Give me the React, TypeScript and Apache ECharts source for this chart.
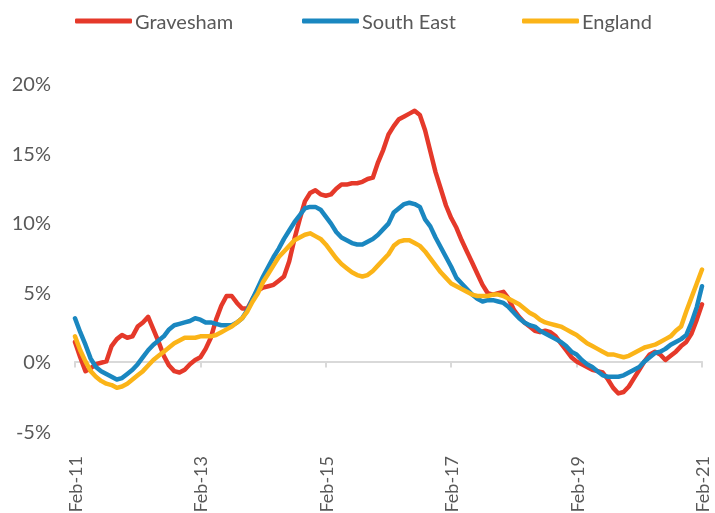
import React, { useEffect, useRef } from "react";
import * as echarts from "echarts";

const MONTHS = ["Jan","Feb","Mar","Apr","May","Jun","Jul","Aug","Sep","Oct","Nov","Dec"];
// Monthly categories Feb-11 .. Feb-21
const categories: string[] = [];
for (let i = 0; i <= 120; i++) {
  const m = (1 + i) % 12;
  const y = 11 + Math.floor((1 + i) / 12);
  categories.push(`${MONTHS[m]}-${String(y).padStart(2, "0")}`);
}

const gravesham = [
  1.4, 0.3, -0.7, -0.5, -0.2, -0.1, 0.0, 1.1, 1.6, 1.9, 1.7, 1.8,
  2.5, 2.8, 3.2, 2.3, 1.4, 0.4, -0.3, -0.7, -0.8, -0.6, -0.2, 0.1,
  0.3, 0.9, 1.7, 3.0, 4.0, 4.7, 4.7, 4.2, 3.8, 3.8, 4.5, 5.1,
  5.3, 5.4, 5.5, 5.8, 6.1, 7.2, 8.8, 10.2, 11.5, 12.1, 12.3, 12.0,
  11.9, 12.0, 12.4, 12.7, 12.7, 12.8, 12.8, 12.9, 13.1, 13.2, 14.3, 15.2,
  16.3, 16.9, 17.4, 17.6, 17.8, 18.0, 17.7, 16.6, 15.1, 13.6, 12.4, 11.2,
  10.3, 9.6, 8.7, 7.9, 7.1, 6.3, 5.5, 4.9, 4.8, 4.9, 5.0, 4.5,
  3.7, 3.2, 2.8, 2.5, 2.2, 2.1, 2.2, 2.1, 1.8, 1.3, 0.8, 0.3,
  0.0, -0.2, -0.4, -0.6, -0.7, -0.8, -1.3, -1.9, -2.3, -2.2, -1.8, -1.2,
  -0.6, 0.0, 0.5, 0.7, 0.5, 0.1, 0.4, 0.7, 1.1, 1.4, 2.0, 3.0,
  4.1,
];

const southEast = [
  3.1, 2.1, 1.2, 0.2, -0.4, -0.7, -0.9, -1.1, -1.3, -1.2, -0.9, -0.6,
  -0.2, 0.3, 0.8, 1.2, 1.5, 1.8, 2.3, 2.6, 2.7, 2.8, 2.9, 3.1,
  3.0, 2.8, 2.8, 2.7, 2.6, 2.6, 2.6, 2.8, 3.1, 3.7, 4.5, 5.3,
  6.1, 6.8, 7.5, 8.1, 8.8, 9.4, 10.0, 10.5, 11.0, 11.1, 11.1, 10.9,
  10.4, 9.9, 9.3, 8.9, 8.7, 8.5, 8.4, 8.4, 8.6, 8.8, 9.1, 9.5,
  9.9, 10.7, 11.0, 11.3, 11.4, 11.3, 11.1, 10.2, 9.7, 8.9, 8.2, 7.5,
  6.8, 6.0, 5.6, 5.2, 4.8, 4.5, 4.3, 4.4, 4.4, 4.3, 4.2, 3.9,
  3.5, 3.1, 2.8, 2.6, 2.5, 2.2, 2.0, 1.8, 1.6, 1.4, 1.1, 0.7,
  0.5, 0.1, -0.2, -0.4, -0.7, -1.0, -1.1, -1.1, -1.1, -1.0, -0.8, -0.6,
  -0.4, 0.0, 0.3, 0.6, 0.7, 0.9, 1.2, 1.4, 1.6, 1.9, 2.8, 3.9,
  5.4,
];

const england = [
  1.8, 0.8, 0.0, -0.7, -1.1, -1.4, -1.6, -1.7, -1.9, -1.8, -1.6, -1.3,
  -1.0, -0.7, -0.3, 0.1, 0.4, 0.7, 1.0, 1.3, 1.5, 1.7, 1.7, 1.7,
  1.8, 1.8, 1.8, 1.9, 2.1, 2.3, 2.5, 2.8, 3.1, 3.6, 4.3, 4.9,
  5.7, 6.3, 6.9, 7.5, 7.9, 8.3, 8.7, 8.9, 9.1, 9.2, 9.0, 8.8,
  8.4, 7.9, 7.4, 7.0, 6.7, 6.4, 6.2, 6.1, 6.2, 6.5, 6.9, 7.3,
  7.7, 8.3, 8.6, 8.7, 8.7, 8.5, 8.3, 7.9, 7.4, 6.9, 6.4, 6.0,
  5.6, 5.4, 5.2, 5.0, 4.8, 4.7, 4.7, 4.7, 4.8, 4.8, 4.7, 4.5,
  4.3, 4.1, 3.8, 3.5, 3.3, 3.0, 2.8, 2.7, 2.6, 2.5, 2.3, 2.1,
  1.9, 1.6, 1.3, 1.1, 0.9, 0.7, 0.5, 0.5, 0.4, 0.3, 0.4, 0.6,
  0.8, 1.0, 1.1, 1.2, 1.4, 1.6, 1.8, 2.2, 2.5, 3.6, 4.6, 5.6,
  6.6,
];

const FONT = "Lato";
const TEXT = "#595959";
const COLORS = { red: "#E5392A", blue: "#1A87C0", yellow: "#FBB418" };

export default function App() {
  const ref = useRef<HTMLDivElement>(null);
  useEffect(() => {
    if (!ref.current) return;
    const chart = echarts.init(ref.current, undefined, { renderer: "svg" });
    const legendBase = {
      top: 11,
      padding: 0,
      itemWidth: 57,
      itemHeight: 5,
      icon: "roundRect",
      itemGap: 4,
      textStyle: { color: TEXT, fontSize: 20, fontFamily: FONT, padding: [0, 0, 0, -2] },
    };
    const mkSeries = (name: string, data: number[], color: string, z: number) => ({
      name,
      type: "line",
      data,
      symbol: "none",
      smooth: false,
      z,
      lineStyle: { width: 4.5, color, cap: "round", join: "round" },
      itemStyle: { color },
    });
    chart.setOption({
      animation: false,
      legend: [
        { ...legendBase, left: 75, data: ["Gravesham"] },
        { ...legendBase, left: 302, data: ["South East"] },
        { ...legendBase, left: 522, data: ["England"] },
      ],
      grid: { left: 75, right: 13, top: 83, bottom: 82, containLabel: false, outerBoundsMode: "none" },
      xAxis: {
        type: "category",
        data: categories,
        boundaryGap: false,
        axisLine: { onZero: true, lineStyle: { color: "#D9D9D9", width: 2 } },
        axisTick: {
          show: true,
          length: 6,
          interval: (idx: number) => idx % 24 === 0,
          lineStyle: { color: "#D9D9D9", width: 2 },
        },
        axisLabel: {
          interval: (idx: number) => idx % 24 === 0,
          rotate: 90,
          margin: 25,
          color: TEXT,
          fontSize: 18,
          fontFamily: FONT,
          hideOverlap: false,
        },
        splitLine: { show: false },
      },
      yAxis: {
        type: "value",
        min: -5,
        max: 20,
        interval: 5,
        axisLine: { show: false },
        axisTick: { show: false },
        splitLine: { show: false },
        axisLabel: {
          formatter: "{value}%",
          color: TEXT,
          fontSize: 20,
          fontFamily: FONT,
          margin: 24,
        },
      },
      series: [
        mkSeries("Gravesham", gravesham, COLORS.red, 2),
        mkSeries("South East", southEast, COLORS.blue, 3),
        mkSeries("England", england, COLORS.yellow, 4),
      ],
    });
    return () => chart.dispose();
  }, []);
  return (
    <div
      ref={ref}
      style={{ position: "fixed", left: 0, top: 0, width: 715, height: 513 }}
    />
  );
}
